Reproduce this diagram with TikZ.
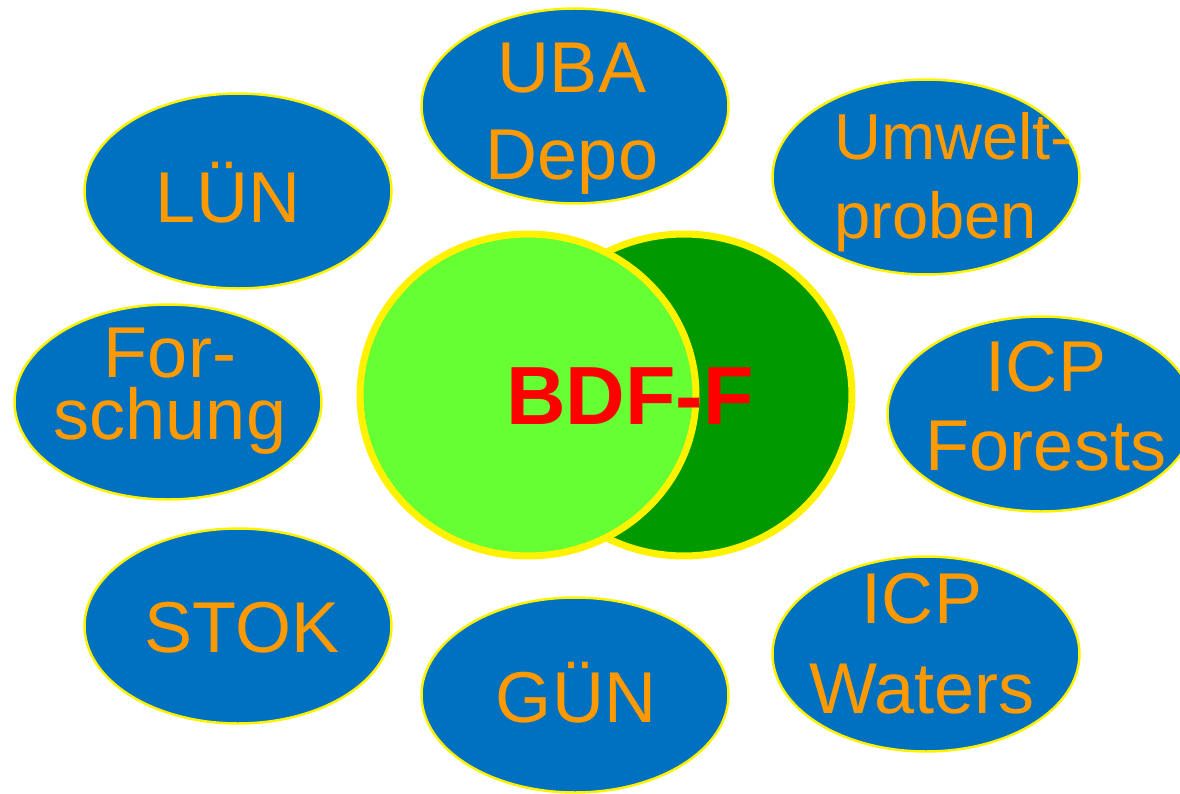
\documentclass[tikz,border=0pt]{standalone}
\usepackage{fontspec}
\setmainfont{Liberation Sans}
\usepackage{xcolor}
\usetikzlibrary{shapes.geometric, positioning}

\definecolor{blobblue}{RGB}{0,112,192}
\definecolor{lblorange}{RGB}{255,153,0}
\definecolor{lightgreen}{RGB}{102,255,51}
\definecolor{darkgreen}{RGB}{0,153,0}

\begin{document}
\begin{tikzpicture}[x=0.02cm, y=-0.02cm,
  blob/.style={ellipse, draw=yellow, line width=1.4pt, fill=blobblue,
    minimum width=6.14cm, minimum height=3.9cm, inner sep=0pt},
  lbl/.style={text=lblorange, align=center, anchor=base,
    font=\fontsize{41}{49.5}\selectfont}]
  \useasboundingbox (0,0) rectangle (1180,794);
  \clip (0,0) rectangle (1180,794);
  % the two discs in the middle
  \node[ellipse, draw=yellow, line width=4pt, fill=darkgreen,
    minimum width=6.72cm, minimum height=6.44cm] (dark) at (684,395) {};
  \node[ellipse, draw=yellow, line width=4pt, fill=lightgreen,
    minimum width=6.72cm, minimum height=6.44cm] (light) at (528,395) {};
  \node[text=red, anchor=base, font=\bfseries\fontsize{47}{56}\selectfont]
    (bdf) at (630,424) {BDF-F};
  % partner ellipses
  \node[blob] (uba) at (575,106) {};
  \node[blob] (lun) at (238,191) {};
  \node[blob] (umw) at (926,177) {};
  \node[blob] (for) at (168,402) {};
  \node[blob] (icpf) at (1041,414) {};
  \node[blob] (stok) at (238,626) {};
  \node[blob] (gun) at (575,695) {};
  \node[blob] (icpw) at (926,654) {};
  % labels (base = baseline of the last line)
  \node[lbl] (ubat) at (572,179) {UBA\\Depo};
  \node[lbl] (lunt) at (228,222) {LÜN};
  \node[lbl, align=left, anchor=base west, font=\fontsize{37}{44.4}\selectfont]
    (umwt) at (828,238) {Umwelt-\\proben};
  \node[lbl, font=\fontsize{41}{35}\selectfont] (fort) at (170,439) {For-\\schung};
  \node[lbl, font=\fontsize{41}{44.4}\selectfont] (icpft) at (1046,470) {ICP\\Forests};
  \node[lbl] (stokt) at (242,652) {STOK};
  \node[lbl] (gunt) at (576,722) {GÜN};
  \node[lbl, font=\fontsize{41}{51}\selectfont] (icpwt) at (922,713) {ICP\\Waters};
\end{tikzpicture}
\end{document}
